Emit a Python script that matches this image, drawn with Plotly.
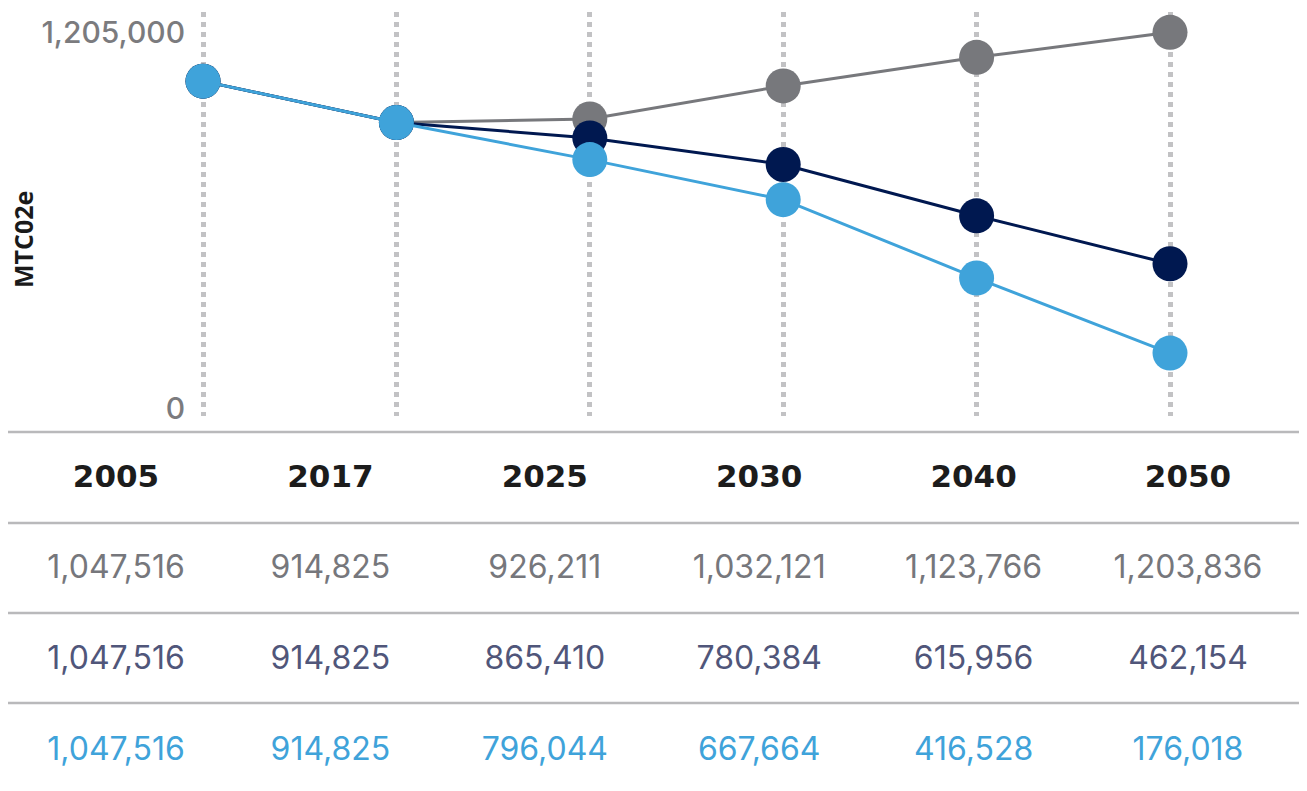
import plotly.graph_objects as go

years = ["2005", "2017", "2025", "2030", "2040", "2050"]
series_names = ["Business as usual", "Scenario A", "Scenario B"]
bau = [1047516, 914825, 926211, 1032121, 1123766, 1203836]
scen_a = [1047516, 914825, 865410, 780384, 615956, 462154]
scen_b = [1047516, 914825, 796044, 667664, 416528, 176018]
series_values = [bau, scen_a, scen_b]
line_colors = ["#77787c", "#001850", "#3fa3da"]
text_colors = ["#76777c", "#50567a", "#3fa3da"]
y_ticks = [0, 1205000]
y_title = "MTC02e"
header_key = "Year"

# page body adds an 8px offset; design in screen pixels
OFF = 8
W, H = 1307 - OFF, 791 - OFF


def px_x(p):
    return (p - OFF) / W


def px_y(p):
    return 1 - (p - OFF) / H


fig = go.Figure()

for name, vals, col in zip(series_names, series_values, line_colors):
    fig.add_trace(go.Scatter(
        x=years, y=vals, name=name, mode="lines+markers",
        line=dict(color=col, width=3),
        marker=dict(color=col, size=35),
        cliponaxis=False, showlegend=False,
        xaxis="x", yaxis="y",
    ))

fig.add_trace(go.Scatter(
    x=years, y=[header_key] * len(years), mode="text", text=years,
    textfont=dict(family="DejaVu Sans", size=31, color="#1c1c1c", weight="bold"),
    showlegend=False, hoverinfo="skip", xaxis="x2", yaxis="y2",
))
for name, vals, col in zip(series_names, series_values, text_colors):
    fig.add_trace(go.Scatter(
        x=years, y=[name] * len(years), mode="text",
        text=[f"{v:,}" for v in vals],
        textfont=dict(family="Inter", size=32, color=col),
        showlegend=False, xaxis="x2", yaxis="y2",
    ))

# top chart geometry (screen px)
cat_step = 193.4
left_px, right_px = 190, 1290
first_cat = 203
x_range = [-(first_cat - left_px) / cat_step, (right_px - first_cat) / cat_step]

top_px, bottom_px = 12, 416
zero_px, max_px = 408, 32
scale = (zero_px - max_px) / y_ticks[1]
y_range = [-(bottom_px - zero_px) / scale, (zero_px - top_px) / scale]

# table geometry (screen px)
t_step = 214.4
t_first = 116
x2_range = [-(t_first - OFF) / t_step, (1307 - t_first) / t_step]
r_step = 91
r_first = 479
t_top = 432
y2_range = [(791 - r_first) / r_step, -(r_first - t_top) / r_step]
sep_px = [432, 523, 613, 703]

fig.update_layout(
    width=W, height=H,
    margin=dict(l=0, r=0, t=0, b=0),
    paper_bgcolor="white", plot_bgcolor="white",
    template="none",
    xaxis=dict(
        domain=[px_x(left_px), px_x(right_px)], type="category",
        categoryorder="array", categoryarray=years,
        range=x_range, showticklabels=False, showline=False, zeroline=False,
        showgrid=True, griddash="dot", gridcolor="#c2c2c4", gridwidth=5,
        ticks="", automargin=False, anchor="y",
    ),
    yaxis=dict(
        domain=[px_y(bottom_px), px_y(top_px)], range=y_range,
        tickvals=y_ticks, tickformat=",d", showgrid=False, zeroline=False,
        showline=False, ticks="", ticklabelstandoff=4,
        tickfont=dict(family="Inter", size=30, color="#7b7b7e", weight=500),
        automargin=False, anchor="x",
    ),
    xaxis2=dict(
        domain=[0, 1], type="category", categoryorder="array",
        categoryarray=years, range=x2_range, visible=False, anchor="y2",
    ),
    yaxis2=dict(
        domain=[0, px_y(t_top)], type="category", categoryorder="array",
        categoryarray=[header_key] + series_names, range=y2_range,
        visible=False, anchor="x2",
    ),
    annotations=[dict(
        text=y_title, textangle=-90, xref="paper", yref="paper",
        x=px_x(23), y=px_y(240), xanchor="center", yanchor="middle",
        showarrow=False,
        font=dict(family="Open Sans", size=25, color="#1a1a1a", weight="bold"),
    )],
    shapes=[
        dict(type="line", xref="paper", yref="paper", x0=0, x1=1,
             y0=px_y(p), y1=px_y(p), line=dict(color="#b9b9bb", width=2.5))
        for p in sep_px
    ],
)

fig.write_html("out.html")
